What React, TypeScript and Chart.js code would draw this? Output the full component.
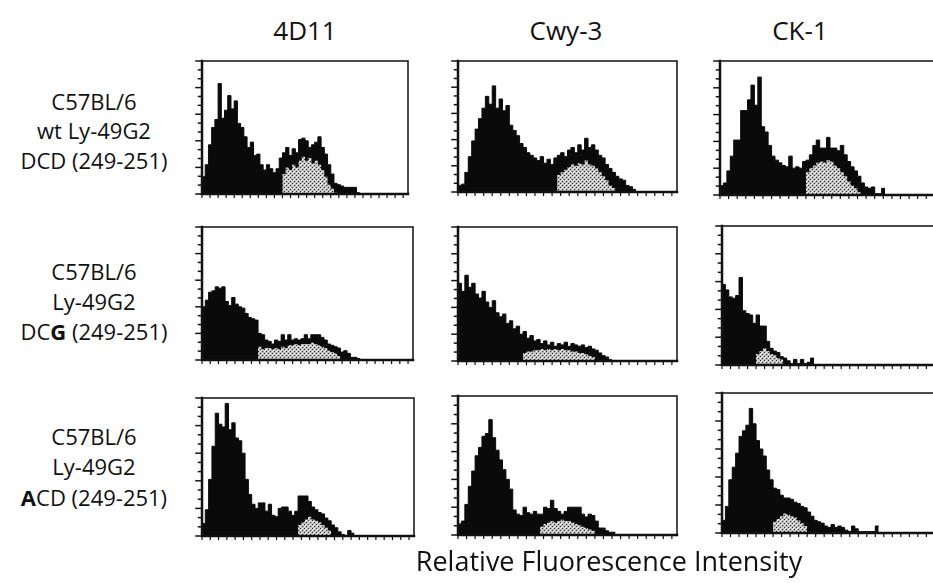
import { useEffect, useRef } from "react";
import { Chart, registerables } from "chart.js";

Chart.register(...registerables);

// Antibody columns and strain / mutant rows
const columnTitles = ["4D11", "Cwy-3", "CK-1"];
const columnCenters = [305, 566, 800];

type Seg = { t: string; b?: boolean };
const rowLabels: Seg[][][] = [
  [[{ t: "C57BL/6" }], [{ t: "wt Ly-49G2" }], [{ t: "DCD (249-251)" }]],
  [[{ t: "C57BL/6" }], [{ t: "Ly-49G2" }], [{ t: "DC" }, { t: "G", b: true }, { t: " (249-251)" }]],
  [[{ t: "C57BL/6" }], [{ t: "Ly-49G2" }], [{ t: "A", b: true }, { t: "CD (249-251)" }]],
];
const rowLabelCenters = [
  [101, 130, 160],
  [271, 301, 331],
  [436, 466, 497],
];
const axisTitle = "Relative Fluorescence Intensity";

// Histogram counts per fluorescence channel (64 channels), % of panel height
const dcd4D11Total = [7, 13, 22, 37, 50, 56, 83, 57, 63, 74, 64, 70, 53, 50, 43, 35, 39, 29, 30, 22, 18, 22, 19, 16, 19, 27, 31, 35, 29, 34, 31, 41, 42, 40, 35, 37, 39, 43, 35, 30, 22, 15, 8, 7, 6, 5, 5, 5, 5, 1];
const dcd4D11Overlay = [0, 0, 0, 0, 0, 0, 0, 0, 0, 0, 0, 0, 0, 0, 0, 0, 0, 0, 0, 0, 0, 0, 0, 0, 0, 0, 15, 20, 18, 22, 20, 25, 28, 25, 27, 23, 25, 22, 18, 13, 7, 4, 1];
const dcdCwy3Total = [9, 5, 6, 15, 27, 39, 48, 56, 64, 73, 67, 81, 64, 71, 62, 66, 51, 47, 43, 37, 34, 30, 28, 26, 24, 27, 22, 25, 21, 26, 28, 30, 27, 32, 34, 30, 36, 32, 41, 34, 36, 32, 28, 26, 21, 18, 15, 12, 10, 9, 5, 4, 2];
const dcdCwy3Overlay = [0, 0, 0, 0, 0, 0, 0, 0, 0, 0, 0, 0, 0, 0, 0, 0, 0, 0, 0, 0, 0, 0, 0, 0, 0, 0, 0, 0, 0, 0, 13, 15, 17, 19, 21, 20, 22, 21, 24, 21, 20, 18, 15, 12, 9, 5, 3];
const dcdCK1Total = [15, 7, 9, 18, 29, 41, 41, 63, 63, 71, 82, 67, 88, 51, 47, 37, 29, 26, 24, 22, 21, 29, 20, 21, 20, 25, 26, 30, 37, 41, 35, 35, 43, 35, 35, 33, 37, 30, 25, 21, 18, 14, 9, 6, 5, 6, 1, 1, 5];
const dcdCK1Overlay = [0, 0, 0, 0, 0, 0, 0, 0, 0, 0, 0, 0, 0, 0, 0, 0, 0, 0, 0, 0, 0, 0, 0, 0, 0, 0, 17, 20, 22, 24, 25, 24, 26, 25, 22, 20, 17, 14, 10, 7, 5, 2];

const dcg4D11Total = [60, 40, 45, 51, 52, 55, 54, 55, 44, 41, 47, 42, 40, 39, 35, 32, 31, 30, 20, 19, 15, 14, 12, 15, 14, 19, 15, 19, 15, 16, 15, 16, 19, 16, 19, 19, 19, 17, 15, 12, 11, 10, 9, 6, 7, 5, 2, 2, 1];
const dcg4D11Overlay = [0, 0, 0, 0, 0, 0, 0, 0, 0, 0, 0, 0, 0, 0, 0, 0, 0, 0, 10, 8, 9, 9, 8, 9, 8, 10, 9, 11, 11, 12, 11, 12, 12, 12, 13, 12, 11, 10, 9, 7, 6, 5, 3];
const dcgCwy3Total = [45, 58, 52, 64, 55, 58, 50, 47, 52, 44, 40, 45, 36, 33, 35, 28, 30, 24, 26, 20, 22, 17, 19, 15, 16, 13, 15, 12, 14, 11, 13, 12, 14, 11, 13, 12, 11, 12, 10, 11, 9, 8, 6, 4, 3, 1];
const dcgCwy3Overlay = [0, 0, 0, 0, 0, 0, 0, 0, 0, 0, 0, 0, 0, 0, 0, 0, 0, 0, 0, 0, 6, 7, 7, 8, 8, 9, 8, 9, 8, 9, 8, 9, 8, 8, 7, 7, 6, 6, 5, 4, 3];
const dcgCK1Total = [28, 58, 54, 49, 48, 50, 63, 39, 37, 36, 30, 36, 28, 28, 17, 12, 10, 9, 6, 5, 3, 1, 4, 1, 4, 1, 2, 5];
const dcgCK1Overlay = [0, 0, 0, 0, 0, 0, 0, 0, 0, 0, 0, 8, 10, 12, 10, 8, 7, 5, 4];

const acd4D11Total = [14, 9, 19, 41, 65, 89, 81, 79, 96, 77, 82, 71, 69, 60, 41, 30, 23, 20, 24, 24, 18, 23, 15, 14, 20, 21, 21, 18, 15, 18, 29, 29, 29, 25, 21, 19, 17, 16, 13, 11, 8, 6, 3, 1, 0, 4, 2];
const acd4D11Overlay = [0, 0, 0, 0, 0, 0, 0, 0, 0, 0, 0, 0, 0, 0, 0, 0, 0, 0, 0, 0, 0, 0, 0, 0, 0, 0, 0, 0, 0, 0, 8, 10, 12, 14, 12, 11, 10, 8, 6, 4];
const acdCwy3Total = [8, 8, 10, 22, 35, 46, 57, 63, 71, 73, 83, 70, 61, 54, 47, 40, 33, 18, 15, 14, 20, 16, 15, 17, 15, 15, 20, 19, 25, 19, 17, 15, 17, 20, 20, 20, 20, 15, 13, 15, 14, 10, 5, 5, 3, 2, 2];
const acdCwy3Overlay = [0, 0, 0, 0, 0, 0, 0, 0, 0, 0, 0, 0, 0, 0, 0, 0, 0, 0, 0, 0, 0, 0, 0, 0, 0, 6, 8, 9, 10, 9, 10, 11, 10, 10, 9, 8, 7, 6, 5, 4, 3];
const acdCK1Total = [7, 9, 19, 38, 47, 57, 69, 73, 77, 89, 78, 66, 60, 55, 45, 38, 32, 31, 27, 25, 25, 24, 22, 21, 19, 18, 15, 12, 9, 8, 7, 5, 4, 6, 4, 5, 4, 2, 1, 5, 3, 1, 1, 1, 1, 1, 5];
const acdCK1Overlay = [0, 0, 0, 0, 0, 0, 0, 0, 0, 0, 0, 0, 0, 0, 0, 0, 8, 10, 12, 14, 13, 12, 11, 9, 7, 5];

const CHANNELS = 64;
const Y_MAX = 100;

type Panel = { total: number[]; overlay: number[]; box: [number, number, number, number] };

// box = [left, top, right, bottom] of each plot frame on the page
const panels: Panel[] = [
  { total: dcd4D11Total, overlay: dcd4D11Overlay, box: [202, 61, 408, 194] },
  { total: dcdCwy3Total, overlay: dcdCwy3Overlay, box: [458, 61, 677, 192] },
  { total: dcdCK1Total, overlay: dcdCK1Overlay, box: [720, 61, 940, 195] },
  { total: dcg4D11Total, overlay: dcg4D11Overlay, box: [202, 227, 413, 360] },
  { total: dcgCwy3Total, overlay: dcgCwy3Overlay, box: [458, 227, 677, 361] },
  { total: dcgCK1Total, overlay: dcgCK1Overlay, box: [722, 226, 940, 365] },
  { total: acd4D11Total, overlay: acd4D11Overlay, box: [202, 398, 414, 536] },
  { total: acdCwy3Total, overlay: acdCwy3Overlay, box: [458, 396, 677, 535] },
  { total: acdCK1Total, overlay: acdCK1Overlay, box: [722, 393, 940, 533] },
];

const PAD = { left: 10, top: 4, right: 4, bottom: 8 };
const FONT = "'Open Sans', 'Noto Sans', sans-serif";

// Frame with thick left/bottom axes, tick marks
const framePlugin = {
  id: "histFrame",
  afterDatasetsDraw(chart: any) {
    const { ctx, chartArea: a, scales } = chart;
    const xs = scales.x;
    const ys = scales.y;
    ctx.save();
    ctx.strokeStyle = "#111";
    ctx.lineCap = "square";
    // top & right
    ctx.lineWidth = 1.5;
    ctx.beginPath();
    ctx.moveTo(a.left, a.top);
    ctx.lineTo(a.right, a.top);
    ctx.lineTo(a.right, a.bottom);
    ctx.stroke();
    // left & bottom
    ctx.lineWidth = 2.5;
    ctx.beginPath();
    ctx.moveTo(a.left, a.top);
    ctx.lineTo(a.left, a.bottom);
    ctx.lineTo(a.right, a.bottom);
    ctx.stroke();
    // y ticks: majors every 20, two minors between
    ctx.lineWidth = 1.5;
    for (let k = 0; k <= 15; k++) {
      const v = (k * Y_MAX) / 15;
      const py = ys.getPixelForValue(v);
      const len = k % 3 === 0 ? 6 : 3.5;
      ctx.beginPath();
      ctx.moveTo(a.left - len, py);
      ctx.lineTo(a.left, py);
      ctx.stroke();
    }
    // x ticks
    ctx.lineWidth = 1.2;
    for (let c = 0; c <= CHANNELS; c += 2.5) {
      const px = xs.getPixelForValue(c);
      ctx.beginPath();
      ctx.moveTo(px, a.bottom);
      ctx.lineTo(px, a.bottom + 3.5);
      ctx.stroke();
    }
    ctx.restore();
  },
};

function makeStipple(): CanvasPattern | string {
  const p = document.createElement("canvas");
  p.width = 4;
  p.height = 4;
  const c = p.getContext("2d");
  if (!c) return "#aaa";
  c.fillStyle = "#bcbcbc";
  c.fillRect(0, 0, 4, 4);
  c.fillStyle = "#f6f6f6";
  c.fillRect(0, 0, 1, 1);
  c.fillRect(2, 2, 1, 1);
  c.fillRect(1, 3, 1, 1);
  c.fillStyle = "#333";
  c.fillRect(2, 0, 1, 1);
  c.fillRect(0, 2, 1, 1);
  const pat = c.createPattern(p, "repeat");
  return pat || "#aaa";
}

const toPoints = (vals: number[]) => vals.map((v, i) => ({ x: i, y: v }));

function HistPanel({ panel }: { panel: Panel }) {
  const ref = useRef<HTMLCanvasElement | null>(null);
  const [l, t, r, b] = panel.box;
  const w = r - l + PAD.left + PAD.right;
  const h = b - t + PAD.top + PAD.bottom;

  useEffect(() => {
    if (!ref.current) return;
    const chart = new Chart(ref.current, {
      type: "line",
      data: {
        datasets: [
          {
            data: toPoints(panel.overlay),
            backgroundColor: makeStipple() as any,
            borderWidth: 0,
            fill: "origin",
            stepped: "after",
            pointRadius: 0,
          },
          {
            data: toPoints(panel.total),
            backgroundColor: "#0a0a0a",
            borderColor: "#0a0a0a",
            borderWidth: 1,
            fill: "origin",
            stepped: "after",
            pointRadius: 0,
          },
        ],
      },
      options: {
        animation: false,
        responsive: false,
        maintainAspectRatio: false,
        events: [],
        layout: { padding: PAD },
        scales: {
          x: { type: "linear", min: 0, max: CHANNELS, display: false },
          y: { type: "linear", min: 0, max: Y_MAX, display: false },
        },
        plugins: { legend: { display: false }, tooltip: { enabled: false } },
      },
      plugins: [framePlugin],
    });
    return () => chart.destroy();
  }, [panel]);

  return (
    <canvas
      ref={ref}
      width={w}
      height={h}
      style={{ position: "absolute", left: l - PAD.left, top: t - PAD.top, width: w, height: h }}
    />
  );
}

export default function App() {
  return (
    <div
      style={{
        position: "absolute",
        left: 0,
        top: 0,
        width: 933,
        height: 583,
        overflow: "hidden",
        background: "#fff",
        fontFamily: FONT,
        color: "#111",
      }}
    >
      {columnTitles.map((title, i) => (
        <div
          key={title}
          style={{
            position: "absolute",
            left: columnCenters[i] - 100,
            width: 200,
            top: 13,
            height: 34,
            lineHeight: "34px",
            textAlign: "center",
            fontSize: 26,
          }}
        >
          {title}
        </div>
      ))}
      {rowLabels.map((lines, ri) =>
        lines.map((segs, li) => (
          <div
            key={`${ri}-${li}`}
            style={{
              position: "absolute",
              left: 0,
              width: 188,
              top: rowLabelCenters[ri][li] - 15,
              height: 30,
              lineHeight: "30px",
              textAlign: "center",
              fontSize: 22,
              whiteSpace: "nowrap",
            }}
          >
            {segs.map((s, si) => (
              <span key={si} style={{ fontWeight: s.b ? 700 : 400 }}>
                {s.t}
              </span>
            ))}
          </div>
        ))
      )}
      {panels.map((p, i) => (
        <HistPanel key={i} panel={p} />
      ))}
      <div
        style={{
          position: "absolute",
          left: 609 - 250,
          width: 500,
          top: 544,
          height: 34,
          lineHeight: "34px",
          textAlign: "center",
          fontSize: 27,
        }}
      >
        {axisTitle}
      </div>
    </div>
  );
}
